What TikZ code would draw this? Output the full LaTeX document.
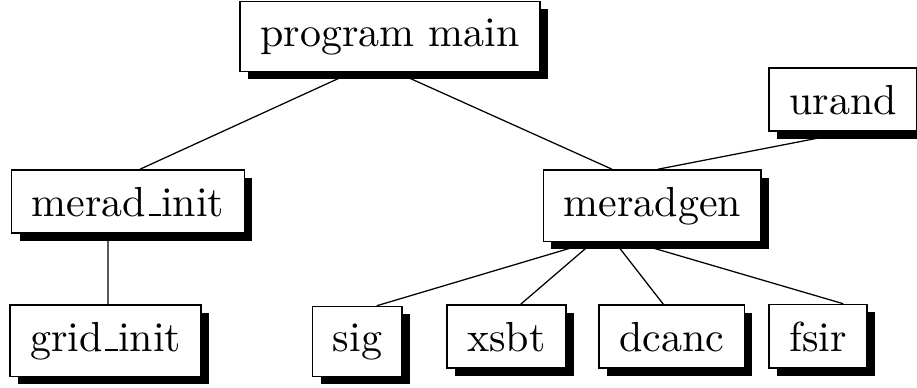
\documentclass[tikz,border=0pt]{standalone}
\usetikzlibrary{shadows,calc}
\newcommand\usc{\leavevmode\kern.06em\vbox{\hrule width.3em}}
\begin{document}
\begin{tikzpicture}[x=0.2381pt,y=-0.2381pt,
  box/.style={draw=black,line width=0.4pt,fill=white,anchor=base,
    inner xsep=4.8pt,inner ysep=4pt,
    general shadow={fill=black,shadow xshift=1.9pt,shadow yshift=-1.8pt}},
  link/.style={draw=black,line width=0.3pt}]
\useasboundingbox (0,0) rectangle (917,387);
\node[box] (pm) at (390,46) {program main};
\node[box] (mi) at (128,216) {merad\usc init};
\node[box] (mg) at (652.3,216) {meradgen};
\node[box] (ur) at (843,114) {urand};
\node[box] (gi) at (105.8,351) {grid\usc init};
\node[box] (sg) at (357.4,351) {sig};
\node[box] (xs) at (506.3,351) {xsbt};
\node[box] (dc) at (671.8,351) {dcanc};
\node[box] (fs) at (818,351) {fsir};
\draw[link] ($(pm.south)+(-38,0)$) -- ($(mi.north)+(12,0)$);
\draw[link] ($(pm.south)+(6.5,0)$) -- ($(mg.north)+(-40.3,0)$);
\draw[link] ($(ur.south)+(6,0)$) -- ($(mg.north)+(5.7,0)$);
\draw[link] ($(mi.south)+(-20,0)$) -- ($(gi.north)+(2.2,0)$);
\draw[link] ($(mg.south)+(-62.3,0)$) -- ($(sg.north)+(19.3,0)$);
\draw[link] ($(mg.south)+(-59.5,0)$) -- ($(xs.north)+(14.4,0)$);
\draw[link] ($(mg.south)+(-37.2,0)$) -- ($(dc.north)+(-8.5,0)$);
\draw[link] ($(mg.south)+(-18.8,0)$) -- ($(fs.north)+(25.3,0)$);
\end{tikzpicture}
\end{document}
